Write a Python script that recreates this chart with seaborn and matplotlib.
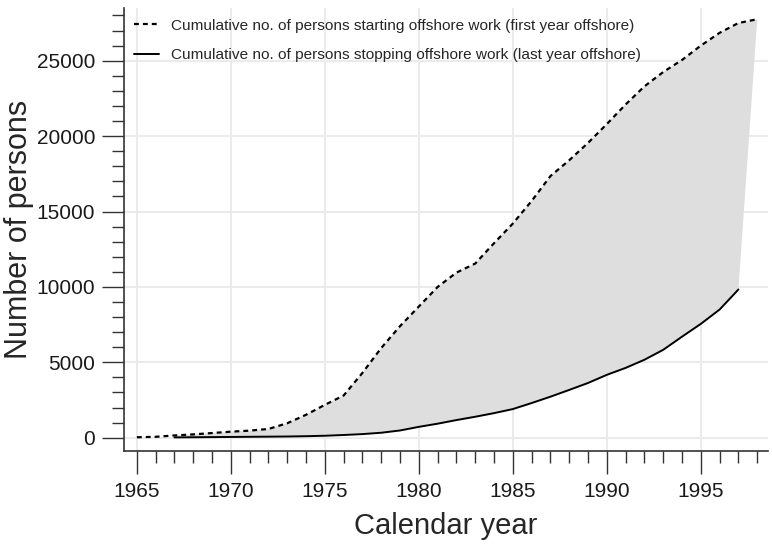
import numpy as np
import pandas as pd
import matplotlib
matplotlib.use("Agg")
import matplotlib.pyplot as plt
import seaborn as sns
from matplotlib.ticker import MultipleLocator

# cumulative persons starting offshore work (first year offshore)
start_years = list(range(1965, 1999))
start_counts = [30, 60, 150, 220, 310, 400, 470, 580, 960, 1520, 2180, 2800,
                4300, 5950, 7400, 8700, 10000, 10950, 11550, 12900, 14200,
                15700, 17350, 18400, 19550, 20800, 22100, 23300, 24250,
                25050, 26000, 26850, 27500, 27750]

# cumulative persons stopping offshore work (last year offshore)
stop_years = list(range(1967, 1998))
stop_counts = [20, 30, 40, 50, 60, 70, 80, 100, 130, 180, 240, 330, 480, 720,
               930, 1170, 1390, 1630, 1900, 2300, 2720, 3170, 3630, 4170,
               4630, 5170, 5830, 6700, 7550, 8500, 9830]

label_start = "Cumulative no. of persons starting offshore work (first year offshore)"
label_stop = "Cumulative no. of persons stopping offshore work (last year offshore)"

df_start = pd.DataFrame({"year": start_years, "n": start_counts})
df_stop = pd.DataFrame({"year": stop_years, "n": stop_counts})

sns.set_style("white")
plt.rcParams["font.family"] = ["Liberation Sans", "DejaVu Sans"]

fig = plt.figure(figsize=(7.72, 5.52), dpi=100)
ax = fig.add_axes([0.160, 0.1835, 0.835, 0.802])

# shaded region between the two curves (polygon closes at the last points)
poly = df_start[df_start["year"] >= stop_years[0]]
px = list(poly["year"]) + stop_years[::-1]
py = list(poly["n"]) + stop_counts[::-1]
ax.fill(px, py, color="#dedede", linewidth=0, zorder=1)

sns.lineplot(data=df_start, x="year", y="n", ax=ax, color="black",
             linestyle=(0, (2.2, 1.8)), linewidth=1.6, label=label_start, zorder=3)
sns.lineplot(data=df_stop, x="year", y="n", ax=ax, color="black",
             linestyle="-", linewidth=1.4, label=label_stop, zorder=3)

ax.set_xlim(1964.29, 1998.58)
ax.set_ylim(-862, 28495)

ax.xaxis.set_major_locator(MultipleLocator(5))
ax.xaxis.set_minor_locator(MultipleLocator(1))
ax.yaxis.set_major_locator(MultipleLocator(5000))
ax.yaxis.set_minor_locator(MultipleLocator(1000))

ax.grid(True, which="major", color="#ebebeb", linewidth=1.5, zorder=0)
ax.set_axisbelow(True)

for side in ["top", "right"]:
    ax.spines[side].set_visible(False)
for side in ["left", "bottom"]:
    ax.spines[side].set_color("#333333")
    ax.spines[side].set_linewidth(1.2)

ax.tick_params(axis="both", which="both", bottom=True, left=True)
ax.tick_params(axis="both", which="major", length=16.2, width=1, color="#333333",
               labelsize=15, labelcolor="#1a1a1a", direction="out")
ax.tick_params(axis="both", which="minor", length=8.6, width=1, color="#333333",
               direction="out")
ax.tick_params(axis="x", which="major", pad=6)
ax.tick_params(axis="y", which="major", pad=4.3)

ax.set_xlabel("Calendar year", fontsize=21, labelpad=8)
ax.set_ylabel("Number of persons", fontsize=22, labelpad=2)

ax.legend(loc="upper left", frameon=False, fontsize=11.1, handlelength=1.6,
          handletextpad=0.8, labelspacing=1.0, borderaxespad=0.3,
          bbox_to_anchor=(0.0, 1.0))

fig.savefig("out.png", dpi=100)
